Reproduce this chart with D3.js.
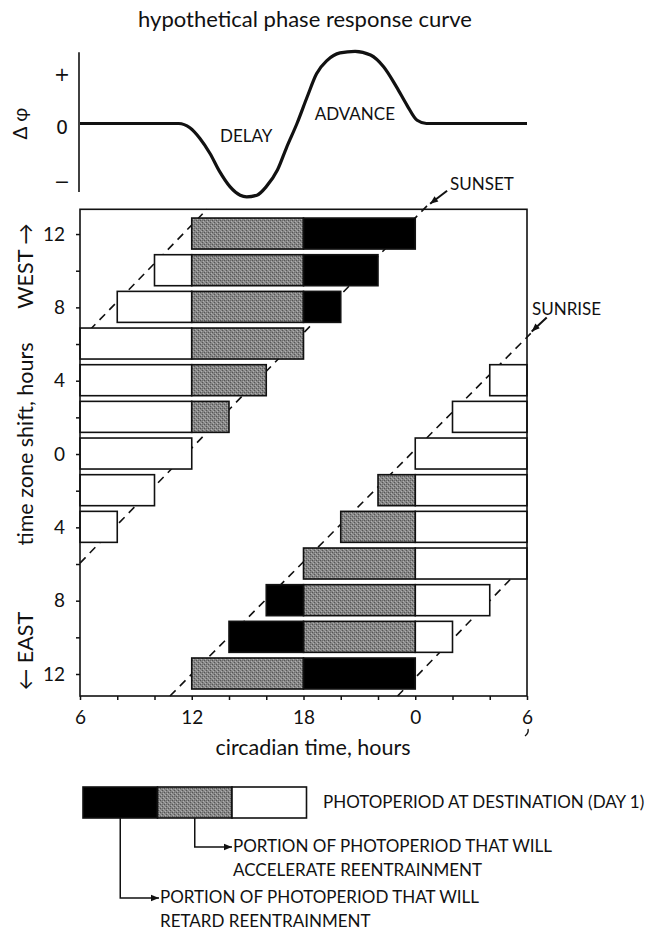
<!DOCTYPE html>
<meta charset="utf-8">
<style>
body { margin: 0; background: #fff; }
text { font-family: Lato, "Open Sans", "DejaVu Sans", sans-serif; fill: #111; }
.frame { fill: none; stroke: #111; stroke-width: 1.6px; }
.bar { stroke: #111; stroke-width: 1.6px; }
.sun { fill: none; stroke: #111; stroke-width: 1.6px; stroke-dasharray: 8,6; }
.axis line, .axis path { stroke: #111; stroke-width: 1.5px; }
.axis text { font-size: 19px; }
</style>
<svg width="648" height="930"></svg>
<script src="https://d3js.org/d3.v7.min.js"></script>
<script>

// hypothetical phase response curve
var prcTime  = [6, 10.5, 11.3, 11.9, 12.44, 12.98, 13.5, 14.05, 14.6, 14.95, 15.5, 16.0, 16.6, 17.1, 17.65, 18.2, 18.7, 19.27, 19.96, 20.77, 21.6, 22.3, 23.0, 23.56, 24.1, 24.6, 25.5, 30];
var prcShift = [0, 0, 0, -0.08, -0.28, -0.56, -0.9, -1.18, -1.34, -1.37, -1.34, -1.18, -0.87, -0.44, 0, 0.5, 0.93, 1.18, 1.32, 1.35, 1.28, 1.06, 0.68, 0.34, 0.06, 0, 0, 0];
var prcTicks = [1, 0, -1];
var prcTickLabels = ["+", "0", "\u2212"];

// circadian time axis (6 .. 30 = 6 next day)
var xTicks = d3.range(6, 31, 2);
var xLabelTicks = [6, 12, 18, 24, 30];
// time zone shift (west positive, east negative)
var yTicks = d3.range(-12, 13, 2);
var yLabelTicks = [12, 8, 4, 0, -4, -8, -12];

// photoperiod segments: [shift, from CT, to CT]
var lightSegs = [[10,10,12],[8,8,12],[6,6,12],[4,6,12],[4,28,30],[2,6,12],[2,26,30],[0,6,12],[0,24,30],
  [-2,6,10],[-2,24,30],[-4,6,8],[-4,24,30],[-6,24,30],[-8,24,28],[-10,24,26]];
var accelSegs = [[12,12,18],[10,12,18],[8,12,18],[6,12,18],[4,12,16],[2,12,14],
  [-2,22,24],[-4,20,24],[-6,18,24],[-8,18,24],[-10,18,24],[-12,12,18]];
var retardSegs = [[12,18,24],[10,18,22],[8,18,20],[-8,16,18],[-10,14,18],[-12,18,24]];

// dashed sunset / sunrise lines: [[CT, shift], [CT, shift]]
var sunsetLines  = [[[6,-5.95],[24.69,13.6]], [[23.05,-13.2],[30,-5.9]]];
var sunriseLines = [[[6,6.22],[12.82,13.35]], [[10.83,-13.2],[30.2,6.58]]];

// legend bar: hours of retard / accelerate / neutral
var legendHours = [4, 4, 4];

var svg = d3.select("svg");

var x = d3.scaleLinear().domain([6, 30]).range([80, 527]);
var y = d3.scaleLinear().domain([-13.2, 13.35]).range([696, 209.3]);
var yP = d3.scaleLinear().domain([-1, 1]).range([177, 70]);
var barH = 31;

var defs = svg.append("defs");
var pat = defs.append("pattern").attr("id", "stipple")
    .attr("width", 4).attr("height", 4).attr("patternUnits", "userSpaceOnUse");
pat.append("rect").attr("width", 4).attr("height", 4).attr("fill", "#868686");
[[0,0,"#555"],[2,2,"#555"],[1,3,"#b0b0b0"],[3,1,"#b0b0b0"],[2,0,"#6e6e6e"],[0,2,"#9a9a9a"]].forEach(function(p) {
  pat.append("rect").attr("x", p[0]).attr("y", p[1]).attr("width", 1).attr("height", 1).attr("fill", p[2]);
});
defs.append("marker").attr("id", "tri")
    .attr("viewBox", "0 0 10 10").attr("refX", 10).attr("refY", 5)
    .attr("markerWidth", 9).attr("markerHeight", 8).attr("markerUnits", "userSpaceOnUse")
    .attr("orient", "auto")
  .append("path").attr("d", "M0,1L10,5L0,9Z").attr("fill", "#111");

// ---- top panel: phase response curve
svg.append("text").attr("x", 305).attr("y", 27).attr("text-anchor", "middle")
    .style("font-size", "22px").text("hypothetical phase response curve");

svg.append("line").attr("x1", x(6) - 1).attr("x2", x(6) - 1)
    .attr("y1", yP(1.33)).attr("y2", yP(-1.28))
    .attr("stroke", "#111").attr("stroke-width", 1.6);

svg.selectAll(".prcTick").data(prcTicks).enter().append("text")
    .attr("class", "prcTick")
    .attr("x", 62).attr("y", function(d) { return yP(d) + 4; })
    .attr("dy", "0.35em").attr("text-anchor", "middle")
    .style("font-family", "'DejaVu Sans', sans-serif")
    .style("font-size", "19px")
    .text(function(d, i) { return prcTickLabels[i]; });

svg.append("text").attr("transform", "translate(27," + yP(0) + ") rotate(-90)")
    .attr("text-anchor", "middle").style("font-size", "19px").text("\u0394 \u03c6");

var prcLine = d3.line()
    .x(function(d, i) { return x(prcTime[i]); })
    .y(function(d) { return yP(d); })
    .curve(d3.curveMonotoneX);
svg.append("path").datum(prcShift).attr("d", prcLine)
    .attr("fill", "none").attr("stroke", "#111").attr("stroke-width", 3.2)
    .attr("stroke-linejoin", "round");

svg.append("text").attr("x", x(13.52)).attr("y", yP(-0.35)).style("font-size", "17px").text("DELAY");
svg.append("text").attr("x", x(18.6)).attr("y", yP(0.07)).style("font-size", "17px").text("ADVANCE");

// ---- main panel
var sunLine = d3.line().x(function(d) { return x(d[0]); }).y(function(d) { return y(d[1]); });
svg.append("g").selectAll("path").data(sunsetLines.concat(sunriseLines)).enter().append("path")
    .attr("class", "sun").attr("d", sunLine);

function drawSegs(data, fill) {
  svg.append("g").selectAll("rect").data(data).enter().append("rect")
      .attr("class", "bar")
      .attr("x", function(d) { return x(d[1]); })
      .attr("width", function(d) { return x(d[2]) - x(d[1]); })
      .attr("y", function(d) { return y(d[0]) - barH / 2 - 0.5; })
      .attr("height", barH)
      .attr("fill", fill);
}
drawSegs(lightSegs, "#fff");
drawSegs(accelSegs, "url(#stipple)");
drawSegs(retardSegs, "#000");

svg.append("rect").attr("class", "frame")
    .attr("x", x(6)).attr("y", y(13.35))
    .attr("width", x(30) - x(6)).attr("height", y(-13.2) - y(13.35));

var xAxis = d3.axisBottom(x).tickValues(xTicks).tickSize(4).tickSizeOuter(0)
    .tickFormat(function(d) { return xLabelTicks.indexOf(d) >= 0 ? d % 24 : ""; });
svg.append("g").attr("class", "axis").attr("transform", "translate(0," + y(-13.2) + ")")
    .call(xAxis)
    .call(function(g) { g.select(".domain").remove(); g.selectAll("text").attr("dy", null).attr("y", 28); });

var yAxis = d3.axisLeft(y).tickValues(yTicks).tickSize(4).tickSizeOuter(0)
    .tickFormat(function(d) { return yLabelTicks.indexOf(d) >= 0 ? Math.abs(d) : ""; });
svg.append("g").attr("class", "axis").attr("transform", "translate(" + x(6) + ",0)")
    .call(yAxis)
    .call(function(g) { g.select(".domain").remove(); g.selectAll("text").attr("x", -15); });

// small stray mark under the last tick label
svg.append("path").attr("d", "M" + (x(30) + 1) + ",729 q1,4 -3,7")
    .attr("fill", "none").attr("stroke", "#111").attr("stroke-width", 1.4);

svg.append("text").attr("x", 313).attr("y", 755).attr("text-anchor", "middle")
    .style("font-size", "21.5px").text("circadian time, hours");
svg.append("text").attr("transform", "translate(33,444) rotate(-90)").attr("text-anchor", "middle")
    .style("font-size", "21.5px").text("time zone shift, hours");
svg.append("text").attr("transform", "translate(33,266) rotate(-90)").attr("text-anchor", "middle")
    .style("font-size", "21.5px").text("WEST \u2192");
svg.append("text").attr("transform", "translate(33,651) rotate(-90)").attr("text-anchor", "middle")
    .style("font-size", "21.5px").text("\u2190 EAST");

// sunset / sunrise call-outs
var setEnd = sunsetLines[0][1], riseEnd = sunriseLines[1][1];
svg.append("line").attr("x1", x(setEnd[0]) + 19).attr("y1", y(setEnd[1]) - 14)
    .attr("x2", x(setEnd[0]) + 2).attr("y2", y(setEnd[1]) - 1)
    .attr("stroke", "#111").attr("stroke-width", 2).attr("marker-end", "url(#tri)");
svg.append("text").attr("x", 450).attr("y", 190).style("font-size", "17px").text("SUNSET");
svg.append("line").attr("x1", x(riseEnd[0]) + 16).attr("y1", y(riseEnd[1]) - 16)
    .attr("x2", x(riseEnd[0]) + 1).attr("y2", y(riseEnd[1]) - 2)
    .attr("stroke", "#111").attr("stroke-width", 2).attr("marker-end", "url(#tri)");
svg.append("text").attr("x", 532).attr("y", 315).style("font-size", "17px").text("SUNRISE");

// ---- legend
var lx0 = x(6) + 3, ly0 = 787;
var legFill = ["#000", "url(#stipple)", "#fff"];
var cum = 0;
var legData = legendHours.map(function(h, i) {
  var d = { from: cum, to: cum + h, fill: legFill[i] };
  cum += h;
  return d;
});
function lx(h) { return lx0 + x(6 + h) - x(6); }
svg.append("g").selectAll("rect").data(legData).enter().append("rect")
    .attr("class", "bar")
    .attr("x", function(d) { return lx(d.from); })
    .attr("width", function(d) { return lx(d.to) - lx(d.from); })
    .attr("y", ly0).attr("height", barH)
    .attr("fill", function(d) { return d.fill; });

svg.append("text").attr("x", 323).attr("y", 808).style("font-size", "17px")
    .text("PHOTOPERIOD AT DESTINATION (DAY 1)");

var connectors = [
  { mid: (legData[1].from + legData[1].to) / 2, yy: 847, tx: 233, lines: ["PORTION OF PHOTOPERIOD THAT WILL", "ACCELERATE REENTRAINMENT"] },
  { mid: (legData[0].from + legData[0].to) / 2, yy: 898, tx: 160, lines: ["PORTION OF PHOTOPERIOD THAT WILL", "RETARD REENTRAINMENT"] }
];
connectors.forEach(function(c) {
  svg.append("path")
      .attr("d", "M" + lx(c.mid) + "," + (ly0 + barH) + "V" + c.yy + "H" + (c.tx - 1))
      .attr("fill", "none").attr("stroke", "#111").attr("stroke-width", 1.5)
      .attr("marker-end", "url(#tri)");
  c.lines.forEach(function(t, i) {
    svg.append("text").attr("x", c.tx).attr("y", c.yy + 5 + i * 24)
        .style("font-size", "17px").text(t);
  });
});

</script>
